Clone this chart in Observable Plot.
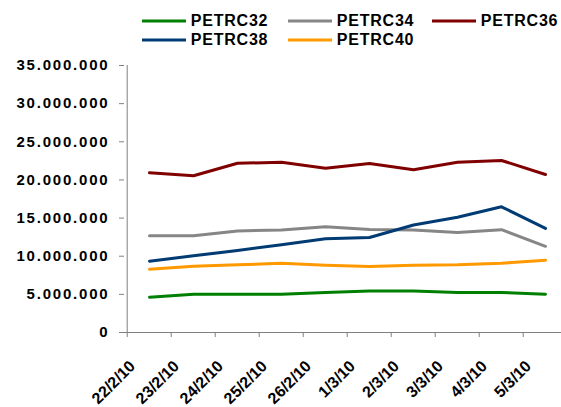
<!DOCTYPE html>
<html><head><meta charset="utf-8">
<script src="https://cdn.jsdelivr.net/npm/d3@7"></script>
<script src="https://cdn.jsdelivr.net/npm/@observablehq/plot@0.6"></script>
<style>
body{margin:0;background:#fff;overflow:hidden;}
#wrap{position:relative;width:561px;height:407px;font-family:"Liberation Sans",Arial,sans-serif;}
#legend{position:absolute;left:0;top:0;width:561px;height:50px;}
.item{position:absolute;display:flex;align-items:center;font-weight:bold;font-size:16px;letter-spacing:0.8px;color:#000;line-height:14px;height:14px;white-space:nowrap;}
.item svg{margin-right:5px;}
.item span{display:inline-block;height:14px;line-height:14px;overflow:visible;}
#chart{position:absolute;left:0;top:0;}
</style></head><body>
<div id="wrap"><div id="chart"></div><div id="legend"></div></div>
<script>
const dates = ["22/2/10","23/2/10","24/2/10","25/2/10","26/2/10","1/3/10","2/3/10","3/3/10","4/3/10","5/3/10"];
const seriesNames = ["PETRC32","PETRC34","PETRC36","PETRC38","PETRC40"];
const seriesColors = ["#008000","#868686","#800000","#003b73","#ff9900"];
const petrc32 = [4630000,5020000,5020000,5020000,5250000,5450000,5450000,5240000,5240000,5020000];
const petrc34 = [12670000,12670000,13300000,13450000,13870000,13500000,13450000,13100000,13480000,11300000];
const petrc36 = [20930000,20540000,22180000,22320000,21540000,22150000,21330000,22320000,22550000,20710000];
const petrc38 = [9350000,10050000,10750000,11500000,12280000,12450000,14100000,15100000,16480000,13650000];
const petrc40 = [8300000,8690000,8870000,9080000,8820000,8650000,8820000,8870000,9080000,9480000];
const yTicks = [0,5000000,10000000,15000000,20000000,25000000,30000000,35000000];

const seriesValues = [petrc32, petrc34, petrc36, petrc38, petrc40];
const rows = [];
seriesNames.forEach((s, i) => dates.forEach((d, j) => rows.push({series: s, date: d, value: seriesValues[i][j]})));

const fmt = d3.formatLocale({decimal: ",", thousands: ".", grouping: [3], currency: ["", ""]}).format(",d");
const xRange = [124, 570];
const bw = (xRange[1] - xRange[0]) / dates.length;
const axisColor = "#808080";

const chart = Plot.plot({
  width: 561, height: 407,
  marginTop: 65, marginBottom: 75, marginLeft: 124, marginRight: 0,
  style: {fontFamily: "'Liberation Sans', Arial, sans-serif", fontWeight: "bold", color: "#000", background: "#fff", overflow: "visible"},
  x: {type: "band", domain: dates, range: xRange, padding: 0, label: null},
  y: {domain: [0, 35000000], range: [332, 65], label: null},
  color: {domain: seriesNames, range: seriesColors},
  marks: [
    Plot.axisY({ticks: yTicks, tickFormat: fmt, tickSize: 5, tickPadding: 10, fontSize: 15, stroke: axisColor, fill: "#000"}),
    Plot.ruleX([dates[0]], {x: d => d, dx: -bw / 2, y1: 0, y2: 35000000, stroke: axisColor}),
    Plot.ruleY([0], {stroke: axisColor}),
    Plot.axisX({tickSize: 5, tickFormat: () => "", dx: -bw / 2, stroke: axisColor}),
    Plot.axisX({tickSize: 0, tickPadding: 31, tickRotate: -45, textAnchor: "end", lineAnchor: "middle", dx: -17, fontSize: 16, fill: "#000"}),
    Plot.line(rows, {x: "date", y: "value", z: "series", stroke: "series", strokeWidth: 3})
  ]
});
document.getElementById("chart").appendChild(chart);
d3.select(chart).selectAll('g[aria-label="y-axis tick label"] text').style("letter-spacing", "1.8px");

const legendPos = [[141.7, 21.2], [287.7, 21.2], [431.7, 21.2], [141.7, 39.6], [287.7, 39.6]];
const legend = document.getElementById("legend");
seriesNames.forEach((s, i) => {
  const el = document.createElement("div");
  el.className = "item";
  el.style.left = legendPos[i][0] + "px";
  el.style.top = (legendPos[i][1] - 7) + "px";
  el.innerHTML = `<svg width="44" height="6"><line x1="0" x2="44" y1="3" y2="3" stroke="${seriesColors[i]}" stroke-width="3"/></svg><span>${s}</span>`;
  legend.appendChild(el);
});
</script>
</body></html>
